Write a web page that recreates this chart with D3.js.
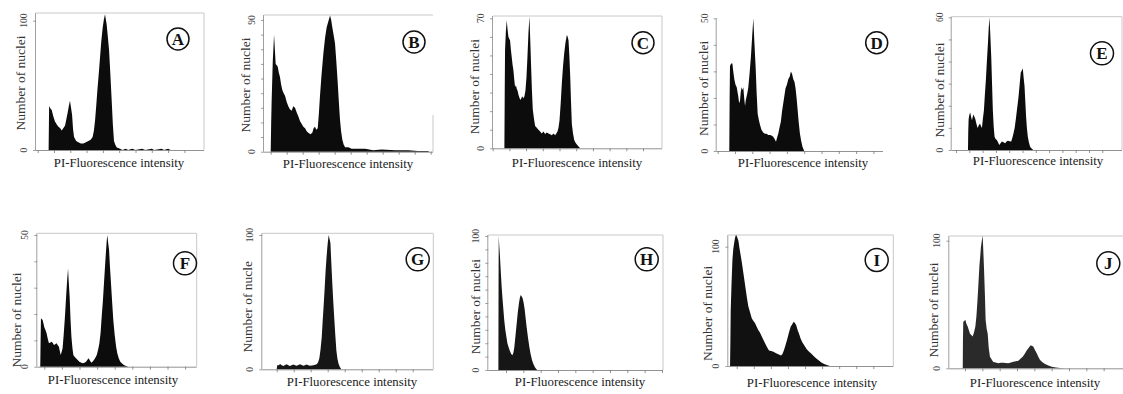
<!DOCTYPE html>
<html>
<head>
<meta charset="utf-8">
<script src="https://cdn.jsdelivr.net/npm/d3@7"></script>
<style>
  body { margin: 0; background: #fff; }
  svg { display: block; }
  text { font-family: "Liberation Serif", "Times New Roman", serif; }
</style>
</head>
<body>
<div id="chart"></div>
<script>
// panel letters, y max label, y axis title
const panelIds = ['A', 'B', 'C', 'D', 'E', 'F', 'G', 'H', 'I', 'J'];
const yMaxValues = [100, 90, 70, 50, 60, 50, 100, 100, 100, 100];
const yTickSteps = [0, 10, 10, 10, 10, 10, 0, 10, 0, 0];
const yTitles = ['Number of nuclei', 'Number of nuclei', 'Number of nuclei', 'Number of nuclei', 'Number of nuclei',
  'Number of nuclei', 'Number of nucle', 'Number of nuclei', 'Number of nuclei', 'Number of nuclei'];
const xTitle = 'PI-Fluorescence intensity';
const xTickCounts = [10, 11, 10, 10, 12, 9, 9, 10, 9, 9];

// histograms: [channel, count], channel 0 = first x tick, 100 = next tick
const histA = [[67, 0], [70, 34], [78, 32], [86, 31], [96, 26], [106, 22], [116, 20], [127, 18], [137, 17], [147, 15],
  [158, 17], [168, 19], [176, 24], [184, 29], [191, 34], [198, 38], [204, 33], [211, 27], [217, 16], [223, 10],
  [236, 7], [249, 6], [265, 5], [280, 5], [296, 6], [311, 7], [325, 8], [337, 10], [345, 15], [352, 23], [359, 34],
  [366, 46], [374, 58], [382, 71], [390, 84], [399, 95], [406, 101], [413, 105], [418, 101], [423, 97], [430, 88],
  [438, 77], [446, 58], [454, 38], [461, 20], [468, 7], [476, 4], [485, 2], [505, 1], [520, 0], [540, 1], [555, 0],
  [580, 1], [600, 0], [640, 1], [660, 0], [700, 1], [715, 0], [760, 1], [775, 0], [800, 1], [815, 0]];
const histB = [[0, 0], [3, 20], [6, 35], [13, 62], [21, 80], [26, 70], [31, 60], [38, 59], [44, 58], [51, 54],
  [58, 51], [65, 46], [73, 42], [81, 40], [90, 38], [100, 34], [110, 31], [120, 29], [131, 28], [141, 31], [152, 30],
  [162, 27], [173, 24], [183, 21], [194, 19], [204, 17], [215, 16], [225, 14], [235, 13], [248, 12], [260, 13],
  [268, 16], [277, 17], [285, 15], [294, 16], [301, 26], [308, 38], [318, 53], [329, 67], [340, 78], [350, 85],
  [360, 89], [371, 93], [378, 90], [385, 85], [393, 80], [402, 74], [410, 62], [419, 47], [426, 34], [433, 22],
  [440, 14], [448, 8], [456, 5], [465, 3], [485, 3], [506, 2], [550, 2], [590, 2], [640, 1], [694, 1.5], [780, 1],
  [860, 1], [920, 0.5], [985, 0.5], [990, 0]];
const histC = [[70, 0], [72, 30], [74, 53], [79, 63], [84, 69], [89, 64], [94, 60], [99, 59], [104, 58], [109, 53],
  [114, 49], [119, 45], [124, 42], [129, 37], [134, 33], [139, 34], [144, 32], [149, 31], [154, 29], [161, 27],
  [168, 26], [176, 28], [184, 27], [190, 28], [196, 31], [202, 38], [208, 49], [214, 62], [220, 71], [225, 58],
  [230, 44], [235, 31], [240, 21], [247, 16], [254, 12], [264, 11], [274, 10], [284, 9], [294, 8], [304, 9],
  [314, 7.7], [324, 8.5], [334, 8], [344, 7.5], [354, 7], [364, 8], [374, 7], [381, 8], [388, 9], [394, 11],
  [400, 15], [407, 24], [414, 35], [421, 44], [428, 51], [436, 57], [444, 61], [449, 60], [454, 58], [459, 50],
  [464, 39], [469, 25], [474, 13], [481, 8], [488, 4.5], [496, 3], [504, 2], [514, 1], [524, 0]];
const histD = [[67, 0], [69, 20], [71, 32], [78, 33], [85, 33], [90, 30], [96, 27], [103, 25], [110, 24], [115, 22],
  [119, 20.5], [124, 18], [129, 19], [133, 22], [138, 24], [143, 23], [148, 24], [153, 20], [158, 17], [162, 19],
  [167, 20.5], [172, 22], [177, 24], [184, 29], [192, 35.5], [199, 43], [206, 50], [212, 41], [219, 32], [225, 22],
  [231, 14], [237, 12], [244, 10], [253, 8], [263, 7], [273, 6.5], [283, 6.5], [292, 6], [302, 6], [311, 5.8],
  [321, 5.4], [329, 4.5], [337, 3.5], [343, 5], [350, 6.5], [358, 9], [365, 11], [372, 15], [379, 18], [386, 21],
  [392, 23.6], [400, 25], [408, 27], [416, 28], [423, 30], [430, 29], [437, 27], [444, 26], [450, 23.6], [456, 20],
  [462, 15.5], [468, 11], [475, 6.7], [482, 4], [490, 1.6], [500, 0]];
const histE = [[90, 0], [92, 8], [95, 14], [101, 16], [107, 17], [113, 15], [120, 13.5], [126, 15], [132, 16],
  [138, 15], [145, 14], [153, 12], [162, 10], [170, 11], [180, 12], [187, 11], [195, 10], [202, 14], [210, 18],
  [217, 25], [225, 32], [232, 40], [240, 48], [246, 55], [252, 60], [258, 52], [265, 42], [271, 30], [277, 18],
  [283, 11], [290, 6], [298, 5], [307, 4.5], [316, 3.5], [325, 2.3], [335, 3], [345, 3.8], [357, 3.5], [370, 3],
  [380, 3.8], [390, 4.2], [402, 4], [415, 3.8], [424, 5.5], [432, 7.5], [441, 10], [450, 14], [460, 19], [470, 24],
  [479, 30], [487, 35], [495, 36], [502, 37], [508, 33], [515, 29], [521, 22], [527, 15], [533, 10], [540, 6],
  [548, 3.5], [557, 1.5], [566, 0.8], [575, 0.3], [580, 0]];
const histF = [[-23, 0], [-21, 10], [-19, 18.4], [-14, 18], [-9.5, 17.7], [-5, 16.5], [0, 15], [6, 14], [13, 12.7],
  [20, 10.5], [26.5, 8.9], [34, 9.2], [42, 9.5], [48, 9], [55, 8.2], [62, 8.5], [70, 8.9], [76, 8.2], [83, 7.6],
  [88, 6], [93, 4.4], [98, 5.5], [104, 7], [110, 12], [116, 17.7], [120, 22], [125, 27.8], [130, 33], [135, 37.3],
  [139, 32], [144, 26.6], [149, 18], [154, 11.4], [160, 7], [165, 4.4], [172, 3.8], [180, 3.2], [190, 2.5],
  [199, 1.9], [208, 1.6], [218, 1.3], [228, 1.5], [237, 1.9], [245, 2.6], [252, 3.2], [260, 2.3], [267, 1.5],
  [275, 2], [282, 2.5], [290, 3.4], [298, 4.4], [306, 6.5], [313, 8.9], [320, 13], [326, 19], [333, 25],
  [339, 31.6], [345, 38], [351, 44.3], [355, 48], [358, 50], [363, 47], [368, 44.3], [373, 38], [379, 31.6],
  [386, 24], [392, 17.7], [400, 12], [408, 7.6], [415, 5], [423, 3.2], [431, 2], [440, 1.3], [452, 0.6], [464, 0.25],
  [478, 0]];
const histG = [[0, 0], [2, 2], [4, 3.2], [12, 3], [20, 4], [30, 3], [39, 2.5], [49, 3.2], [59, 3.7], [68, 3],
  [78, 2.5], [88, 3], [98, 3.5], [108, 3], [118, 2.7], [127, 3.2], [137, 3.7], [147, 3.2], [157, 2.7], [166, 3],
  [176, 3.5], [186, 3], [196, 2.7], [206, 2.9], [216, 3], [226, 3.3], [235, 3.7], [243, 5], [251, 8.2], [258, 15],
  [265, 24], [270, 35], [276, 47], [282, 60], [288, 74], [293, 83], [298, 91], [302, 96], [306, 100], [311, 97],
  [316, 94], [321, 80], [327, 64], [333, 50], [339, 37], [345, 25], [351, 14], [357, 8], [363, 4.5], [370, 2],
  [378, 0.5], [382, 0]];
const histH = [[-44, 0], [-43, 60], [-42, 100], [-39, 93], [-35, 85], [-30, 73], [-25, 62], [-20, 53], [-15, 45],
  [-10, 37], [-4, 30], [2, 25], [8, 20], [15, 17], [23, 14], [30, 12], [37, 11], [43, 13], [48, 17], [55, 26],
  [62, 35], [68, 43], [75, 50], [80, 54], [85, 56], [90, 55], [96, 53.5], [102, 50], [108, 45], [113, 39],
  [119, 32], [127, 24], [135, 17], [142, 12], [150, 7.5], [158, 4.5], [167, 2], [174, 0.8], [181, 0]];
const histI = [[-39, 0], [-37, 20], [-35, 47], [-30, 70], [-25, 89], [-20, 98], [-14, 104], [-9, 108], [-4, 110],
  [3, 108], [10, 105], [16, 99], [23, 93], [31, 86], [39, 78], [46, 71], [53, 64], [60, 57], [68, 50], [78, 45],
  [88, 40], [97, 38], [107, 36], [117, 33], [127, 30], [136, 28], [146, 25], [156, 22], [166, 19], [177, 16],
  [189, 13], [202, 12.5], [215, 12], [228, 11], [240, 10], [250, 9.5], [260, 8.7], [268, 10], [277, 13.4],
  [287, 18], [297, 23], [306, 28], [316, 33], [325, 35], [334, 37], [341, 36], [349, 34], [357, 30], [365, 27],
  [374, 23], [384, 20], [397, 17], [410, 14], [424, 12], [439, 10], [453, 8], [468, 6], [483, 4.3], [498, 2.8],
  [512, 1.6], [527, 0.8], [546, 0]];
const histJ = [[-13, 0], [-12, 20], [-10, 36.5], [-4, 37], [2, 38], [8, 35], [15, 33], [22, 30], [29, 27], [36, 26],
  [44, 25], [52, 28], [60, 33], [66, 41], [71, 51], [77, 65], [83, 80], [88, 88], [92, 95], [97, 100], [102, 104],
  [106, 91], [110, 77], [115, 57], [119, 38], [125, 31], [131, 27], [137, 16], [144, 9], [153, 7], [163, 5],
  [177, 4.5], [192, 4], [206, 4.3], [221, 4.4], [235, 4.1], [250, 4], [265, 4.6], [279, 5.2], [294, 5.5],
  [308, 6], [320, 7.5], [333, 9], [345, 11.5], [356, 14], [367, 16], [379, 18], [387, 17.5], [394, 17], [403, 14.5],
  [413, 12], [423, 9], [433, 6.5], [447, 4.8], [462, 3.4], [481, 2.2], [500, 1.3], [524, 0.7], [548, 0.3],
  [577, 0]];
const histograms = [histA, histB, histC, histD, histE, histF, histG, histH, histI, histJ];
const fills = ['#0c0c0c', '#0c0c0c', '#0c0c0c', '#0c0c0c', '#0c0c0c', '#0c0c0c', '#161616', '#161616', '#111', '#2a2a2a'];

// page positions of each panel (pixels)
const layout = [
  { left: 36, right: 204, top: 13, base: 150, yTop: 20.7, tick0: 37.7, step: 16.3, circle: [178, 39, 11], xl: [119, 167], yl: [20, 83], frameTop: true, frameRight: [13, 150] },
  { left: 264, right: 433, top: 15, base: 151.7, yTop: 20, tick0: 270.7, step: 16, circle: [414, 42, 11], xl: [348, 168], yl: [245, 85], frameTop: true, frameRight: [115, 151.7] },
  { left: 493, right: 662, top: 16, base: 148.3, yTop: 18.3, tick0: 492.7, step: 16.7, circle: [643, 42.7, 11], xl: [577, 166.7], yl: [474, 86.7], frameTop: true, frameRight: [16, 148.3] },
  { left: 716.7, right: 883, top: null, base: 151, yTop: 18.3, tick0: 717.7, step: 17.3, circle: [876.7, 42.7, 11], xl: [803, 166.7], yl: [703, 88.3], frameTop: false, frameRight: null },
  { left: 951.7, right: 1122, top: 16.7, base: 150, yTop: 17.3, tick0: 956, step: 13.3, circle: [1102, 53.3, 11.5], xl: [1038, 165], yl: [939, 90], frameTop: true, frameRight: [16.7, 150] },
  { left: 37.3, right: 196.7, top: 233.3, base: 366.7, yTop: 235, tick0: 44.3, step: 17.6, circle: [185, 263.3, 11.5], xl: [113, 384], yl: [16.7, 320], frameTop: true, frameRight: [233.3, 366.7] },
  { left: 262.3, right: 433.3, top: 233.3, base: 369.3, yTop: 235, tick0: 276.7, step: 17, circle: [417.7, 259.3, 11.5], xl: [352, 386], yl: [247.7, 306.7], frameTop: true, frameRight: [233.3, 369.3] },
  { left: 488.3, right: 663, top: 235, base: 370, yTop: 236, tick0: 506, step: 17.33, circle: [646.7, 259.3, 11.5], xl: [580, 386], yl: [475, 306.7], frameTop: true, frameRight: [235, 370] },
  { left: 728.3, right: 893.3, top: 235, base: 366, yTop: 246.7, tick0: 736.7, step: 17.08, circle: [876.7, 260, 11.5], xl: [812, 387.3], yl: [707.7, 313.3], frameTop: true, frameRight: [235, 366] },
  { left: 949.3, right: 1123, top: 236, base: 368.3, yTop: 240.7, tick0: 965, step: 17.33, circle: [1108.3, 263.3, 11.5], xl: [1035, 387.3], yl: [933.3, 310], frameTop: true, frameRight: null }
];

const width = 1123, height = 394;
const svg = d3.select('#chart').append('svg').attr('width', width).attr('height', height);

panelIds.forEach((id, i) => {
  const L = layout[i];
  const g = svg.append('g');
  const yMax = yMaxValues[i];

  const x = d3.scaleLinear().domain([0, 100]).range([L.tick0, L.tick0 + L.step]);
  const y = d3.scaleLinear().domain([0, yMax]).range([L.base, L.yTop]);

  // frame (light grey top / right)
  if (L.frameTop) {
    g.append('line').attr('x1', L.left).attr('x2', L.right).attr('y1', L.top).attr('y2', L.top)
      .style('stroke', '#c8c8c8').style('stroke-width', 1);
  }
  if (L.frameRight) {
    g.append('line').attr('x1', L.right).attr('x2', L.right).attr('y1', L.frameRight[0]).attr('y2', L.frameRight[1])
      .style('stroke', '#c8c8c8').style('stroke-width', 1);
  }

  // histogram
  const area = d3.area()
    .x(d => x(d[0]))
    .y0(L.base)
    .y1(d => y(d[1]));
  g.append('path').datum(histograms[i]).attr('d', area).style('fill', fills[i]).style('stroke', 'none');

  // x axis
  const xTicks = d3.range(xTickCounts[i]).map(k => k * 100);
  const xAxis = d3.axisBottom(x).tickValues(xTicks).tickSize(3).tickFormat('');
  const xg = g.append('g').attr('transform', `translate(0,${L.base})`).call(xAxis);
  xg.select('.domain').attr('d', `M${L.left},0.5H${L.right}`);
  xg.selectAll('.domain, .tick line').style('stroke', '#777').style('stroke-width', 0.8);

  // y axis
  const yTicks = yTickSteps[i] ? d3.range(0, yMax + 0.01, yTickSteps[i]) : [0, yMax];
  const yAxis = d3.axisLeft(y).tickValues(yTicks).tickSize(3).tickFormat('');
  const yg = g.append('g').attr('transform', `translate(${L.left},0)`).call(yAxis);
  yg.select('.domain').attr('d', `M-0.5,${L.base}V${L.top != null ? L.top : L.yTop}`);
  yg.selectAll('.domain, .tick line').style('stroke', '#888').style('stroke-width', 0.8);

  // rotated tick labels 0 and max
  [0, yMax].forEach(v => {
    g.append('text')
      .attr('transform', `translate(${L.left - 9},${y(v)}) rotate(-90)`)
      .attr('text-anchor', 'middle')
      .style('font-size', '9.5px')
      .style('fill', '#444')
      .text(v);
  });

  // axis titles
  g.append('text')
    .attr('x', L.xl[0]).attr('y', L.xl[1])
    .attr('text-anchor', 'middle')
    .style('font-size', '12.8px')
    .style('fill', '#222')
    .text(xTitle);

  g.append('text')
    .attr('transform', `translate(${L.yl[0] + 4.5},${L.yl[1]}) rotate(-90)`)
    .attr('text-anchor', 'middle')
    .style('font-size', '13.5px')
    .style('fill', '#333')
    .text(yTitles[i]);

  // circled panel letter
  const [cx, cy, r] = L.circle;
  g.append('circle').attr('cx', cx).attr('cy', cy).attr('r', r)
    .style('fill', 'white').style('stroke', '#111').style('stroke-width', 1.5);
  g.append('text')
    .attr('x', cx).attr('y', cy + 6)
    .attr('text-anchor', 'middle')
    .style('font-size', '17px')
    .style('font-weight', 'bold')
    .style('fill', '#111')
    .text(id);
});
</script>
</body>
</html>
